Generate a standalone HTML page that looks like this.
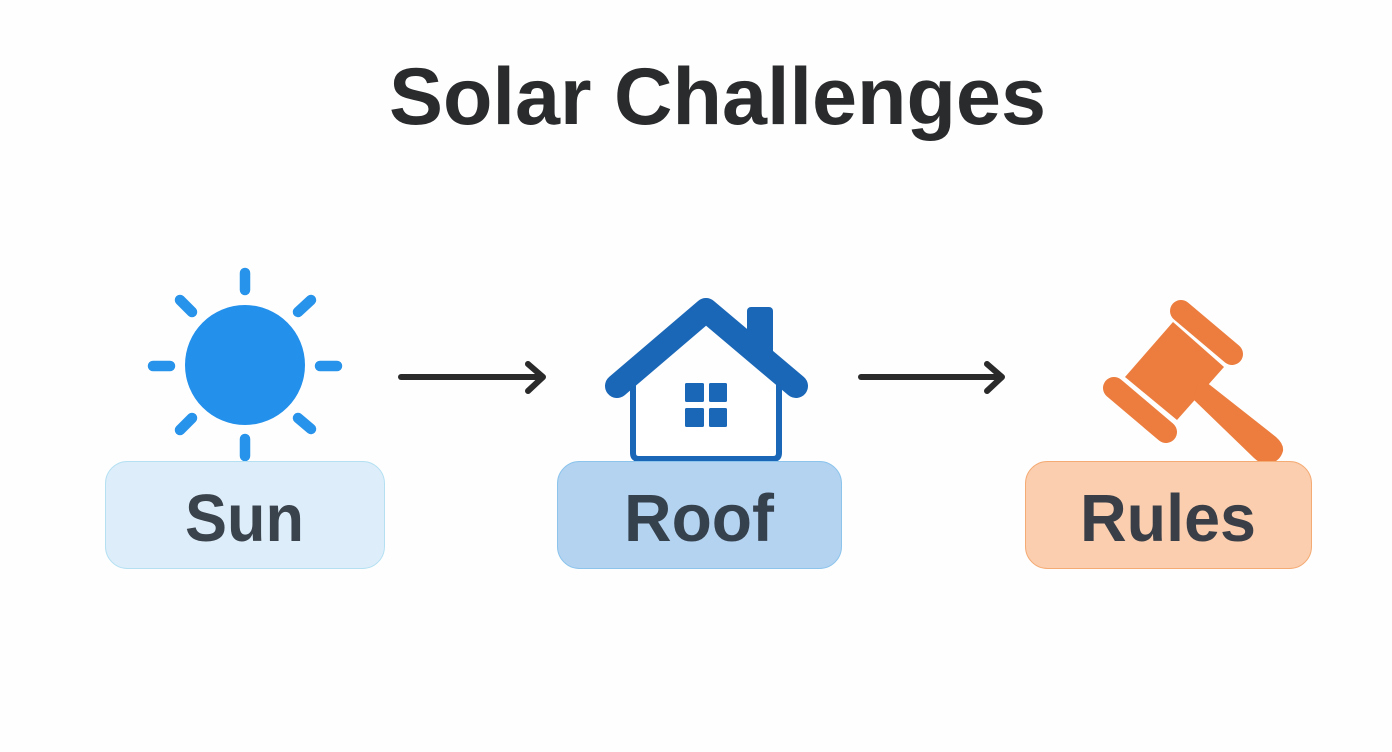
<!DOCTYPE html>
<html>
<head>
<meta charset="utf-8">
<style>
html,body{margin:0;padding:0;background:#fefefe;width:1392px;height:752px;overflow:hidden}
svg{display:block}
text{font-family:"Liberation Sans",sans-serif;font-weight:bold}
</style>
</head>
<body>
<svg width="1392" height="752" viewBox="0 0 1392 752" xmlns="http://www.w3.org/2000/svg">
<rect width="1392" height="752" fill="#fefefe"/>
<text x="389" y="124" font-size="81" fill="#2a2b2d" textLength="657" lengthAdjust="spacingAndGlyphs">Solar Challenges</text>

<!-- Sun -->
<circle cx="245" cy="365" r="60" fill="#2390ec"/>
<g stroke="#2893ea" stroke-width="10.500" stroke-linecap="round" fill="none">
<line x1="245" y1="273" x2="245" y2="290"/>
<line x1="245" y1="439" x2="245" y2="456"/>
<line x1="153" y1="366" x2="170" y2="366"/>
<line x1="320" y1="366" x2="337" y2="366"/>
<line x1="180" y1="300" x2="192" y2="312"/>
<line x1="311" y1="300" x2="298" y2="312"/>
<line x1="180" y1="430" x2="192" y2="418"/>
<line x1="311" y1="429" x2="298" y2="418"/>
</g>
<rect x="105.500" y="461.500" width="279" height="107" rx="22" fill="#ddeefa" stroke="#b5e0f2" stroke-width="1"/>
<text x="185" y="541" font-size="67" fill="#3a424c" textLength="119" lengthAdjust="spacingAndGlyphs">Sun</text>

<!-- Arrow 1 -->
<g stroke="#2a2a2a" stroke-width="6" stroke-linecap="round" stroke-linejoin="round" fill="none">
<line x1="401" y1="377" x2="542" y2="377"/>
<polyline points="528,364 543,377 528,391"/>
</g>

<!-- House -->
<rect x="747" y="307" width="26" height="50" rx="4" fill="#1a67b8"/>
<path d="M633 380V453Q633 459 639 459H773Q779 459 779 453V380" fill="#fff" stroke="#1a67b8" stroke-width="6"/>
<path d="M706 325L636 385V380L690 330Z" fill="#fff"/>
<polyline points="617,386 706,310 796,386" fill="none" stroke="#1a67b8" stroke-width="24" stroke-linecap="round" stroke-linejoin="round"/>
<g fill="#1a67b8">
<rect x="685" y="383" width="19" height="19" rx="1.500"/>
<rect x="709" y="383" width="18" height="19" rx="1.500"/>
<rect x="685" y="408" width="19" height="19" rx="1.500"/>
<rect x="709" y="408" width="18" height="19" rx="1.500"/>
</g>
<rect x="557.500" y="461.500" width="284" height="107" rx="22" fill="#b4d3f0" stroke="#8cc4ec" stroke-width="1"/>
<text x="624" y="541" font-size="67" fill="#36414e" textLength="150" lengthAdjust="spacingAndGlyphs">Roof</text>

<!-- Arrow 2 -->
<g stroke="#2a2a2a" stroke-width="6" stroke-linecap="round" stroke-linejoin="round" fill="none">
<line x1="861" y1="377" x2="1001" y2="377"/>
<polyline points="987,364 1002,377 987,391"/>
</g>

<!-- Gavel -->
<g fill="#ec7d3e">
<polygon points="1173,322 1224,367 1177,420 1125,377"/>
<path d="M1200 378L1210 385L1276 437Q1284 444 1283 451Q1280 462 1268 464Q1260 464 1254 458L1193 399Z"/>
</g>
<g stroke="#ec7d3e" stroke-linecap="round" fill="none">
<line x1="1181" y1="311" x2="1232" y2="354" stroke-width="22"/>
<line x1="1114" y1="388" x2="1166" y2="432" stroke-width="22"/>
</g>
<rect x="1025.500" y="461.500" width="286" height="107" rx="22" fill="#fbceaf" stroke="#f4ab74" stroke-width="1"/>
<text x="1080" y="541" font-size="67" fill="#3a3f47" textLength="176" lengthAdjust="spacingAndGlyphs">Rules</text>
</svg>
</body>
</html>
